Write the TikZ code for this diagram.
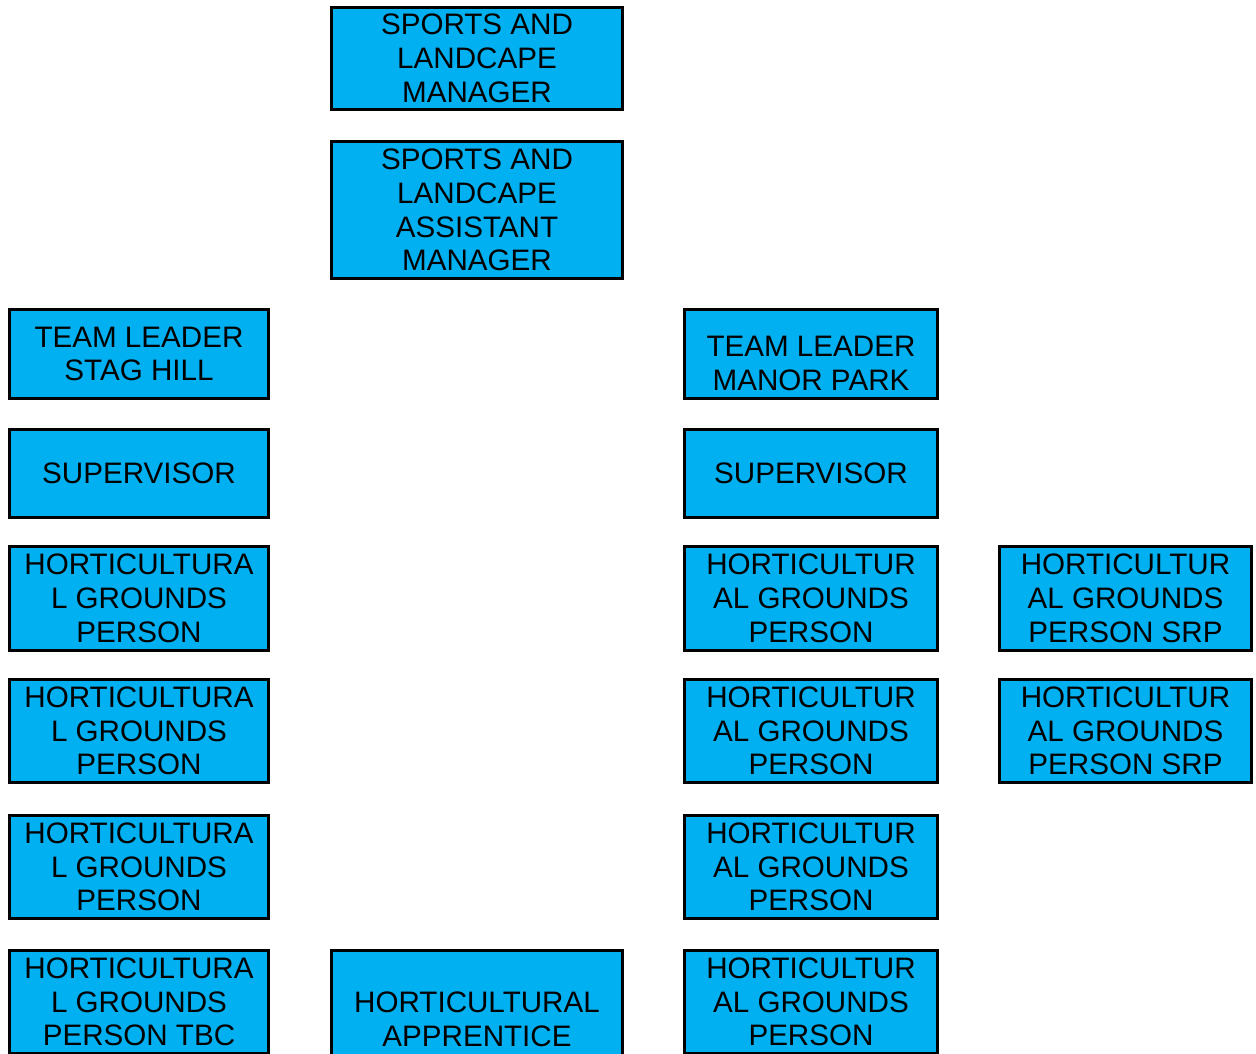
\documentclass[tikz,border=0pt]{standalone}
\usepackage{fontspec}
\setmainfont{Liberation Sans}
\definecolor{postcolor}{RGB}{0,176,240}

\begin{document}
\begin{tikzpicture}[x=0.75pt, y=-0.75pt,
    postbox/.style={draw=black, line width=2.25pt, fill=postcolor, align=center,
        inner sep=0pt, font=\fontsize{22.2}{25.3}\selectfont},
    posttext/.style={align=center, inner sep=0pt, font=\fontsize{22.2}{25.3}\selectfont},
    colA/.style={minimum width=194.25pt},
    colB/.style={minimum width=218.25pt},
    colC/.style={minimum width=189.75pt},
    colD/.style={minimum width=189pt},
    rowH/.style={minimum height=77.6pt}]
    \useasboundingbox (0,0) rectangle (1256,1053);

    % Management
    \node[postbox, colB, minimum height=76.5pt] (manager) at (477,58.5)
        {SPORTS AND\\LANDCAPE\\MANAGER};
    \node[postbox, colB, minimum height=102.75pt] (assistant) at (477,210)
        {SPORTS AND\\LANDCAPE\\ASSISTANT\\MANAGER};

    % Stag Hill team
    \node[postbox, colA, minimum height=66.75pt] (leaderSH) at (139,354)
        {TEAM LEADER\\STAG HILL};
    \node[postbox, colA, minimum height=66pt] (supervisorSH) at (139,473.5) {SUPERVISOR};
    \foreach \y/\n in {598.5/1, 731/2, 867/3} {
        \node[postbox, colA, rowH] (personSH\n) at (139,\y)
            {HORTICULTURA\\L GROUNDS\\PERSON};
    }
    \node[postbox, colA, rowH] (personSH4) at (139,1002)
        {HORTICULTURA\\L GROUNDS\\PERSON TBC};

    % Apprentice
    \node[postbox, colB, minimum height=102.75pt] (apprentice) at (477,1019)
        {HORTICULTURAL\\APPRENTICE};

    % Manor Park team
    \node[postbox, colC, minimum height=66.75pt] (leaderMP) at (811,354) {};
    \node[posttext] (leaderMPtext) at (811,363.5) {TEAM LEADER\\MANOR PARK};
    \node[postbox, colC, minimum height=66pt] (supervisorMP) at (811,473.5) {SUPERVISOR};
    \foreach \y/\n in {598.5/1, 731/2, 867/3, 1002/4} {
        \node[postbox, colC, rowH] (personMP\n) at (811,\y)
            {HORTICULTUR\\AL GROUNDS\\PERSON};
    }

    % SRP posts
    \foreach \y/\n in {598.5/1, 731/2} {
        \node[postbox, colD, rowH] (personSRP\n) at (1125.5,\y)
            {HORTICULTUR\\AL GROUNDS\\PERSON SRP};
    }
\end{tikzpicture}
\end{document}
